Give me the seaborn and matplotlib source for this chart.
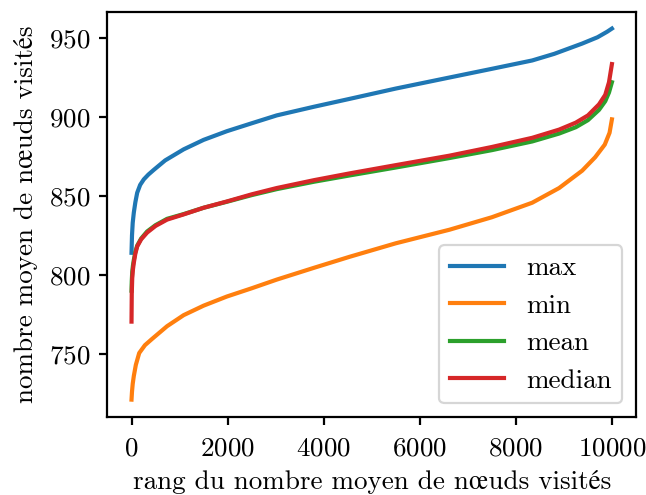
import matplotlib
matplotlib.use("Agg")
import matplotlib.pyplot as plt
import seaborn as sns
import pandas as pd

# sorted curves (rank -> mean visited nodes)
rank_max = [0, 10, 25, 48, 80, 118, 180, 256, 350, 463, 700, 1085, 1500, 1985, 2500,
            3022, 3800, 4544, 5500, 6618, 7500, 8340, 8800, 9380, 9700, 9900, 9999]
val_max = [814, 825, 833, 839.5, 846, 852, 857, 860.5, 863.5, 866.5, 872.5, 879.5, 885.5,
           891, 896, 901, 906.5, 911.5, 918, 925, 930.5, 935.8, 940, 946.5, 950.5, 954, 956]

rank_min = [0, 10, 25, 48, 90, 160, 280, 430, 740, 1085, 1500, 1985, 2500, 3022, 3800,
            4544, 5500, 6618, 7500, 8340, 8900, 9380, 9650, 9850, 9950, 9999]
val_min = [721, 726, 731, 736, 743, 750.5, 755.5, 759.5, 767.5, 774.5, 780.5, 786.3, 791.5,
           797, 804.5, 811.5, 820, 828.6, 836.5, 845.7, 855, 866, 874.5, 882.5, 890, 898.5]

rank_mean = [0, 5, 15, 30, 48, 80, 118, 200, 325, 500, 740, 1085, 1500, 1985, 2500, 3022,
             3800, 4544, 5500, 6618, 7500, 8340, 8900, 9246, 9500, 9730, 9860, 9938, 9999]
val_mean = [790, 796, 802, 806, 809.5, 814.5, 818.5, 823, 827.5, 831.5, 835.5, 838.5, 842.5,
            846.3, 850.5, 854.3, 859, 863, 868, 874, 879, 884.5, 889.5, 893.5, 898, 904.5,
            910, 915.5, 922]

rank_median = [0, 5, 15, 30, 48, 80, 118, 200, 325, 500, 740, 1085, 1500, 1985, 2500, 3022,
               3800, 4544, 5500, 6618, 7500, 8340, 8900, 9246, 9500, 9730, 9860, 9938, 9999]
val_median = [770.4, 788, 798, 803.5, 807.7, 813.5, 818, 822.5, 826.8, 831, 835, 838.3, 842.5,
              846.5, 851, 855, 860, 864.3, 869.5, 875.5, 881, 886.8, 892, 896.4, 901, 908,
              914, 922, 933.5]

frames = []
for name, r, v in [("max", rank_max, val_max), ("min", rank_min, val_min),
                   ("mean", rank_mean, val_mean), ("median", rank_median, val_median)]:
    frames.append(pd.DataFrame({"rank": r, "value": v, "stat": name}))
df = pd.concat(frames, ignore_index=True)

# Computer Modern look; STIX fills in œ and é
plt.rcParams["font.family"] = ["cmr10", "STIXGeneral", "DejaVu Serif"]
plt.rcParams["mathtext.fontset"] = "cm"
plt.rcParams["axes.formatter.use_mathtext"] = True
plt.rcParams["font.size"] = 19.5
plt.rcParams["axes.linewidth"] = 1.6

fig, ax = plt.subplots(figsize=(6.46, 4.95), dpi=100)
sns.lineplot(data=df, x="rank", y="value", hue="stat",
             palette=["#1f77b4", "#ff7f0e", "#2ca02c", "#d62728"],
             linewidth=3, ax=ax)

ax.set_xlabel("rang du nombre moyen de nœuds visités", labelpad=7)
ax.set_ylabel("nombre moyen de nœuds visités", labelpad=8)
ax.set_xticks([0, 2000, 4000, 6000, 8000, 10000])
ax.set_yticks([750, 800, 850, 900, 950])
ax.tick_params(axis="x", labelsize=19.5, length=6, width=1.6, pad=8)
ax.tick_params(axis="y", labelsize=19.5, length=6, width=1.6, pad=6)
ax.set_xlim(-500, 10500)
ax.set_ylim(710, 966.5)
leg = ax.legend(title=None, loc="lower right", fontsize=19.5)
leg.get_frame().set_linewidth(1.6)

fig.subplots_adjust(left=0.1664, right=0.9845, top=0.9758, bottom=0.1576)
fig.savefig("out.png", dpi=100)
